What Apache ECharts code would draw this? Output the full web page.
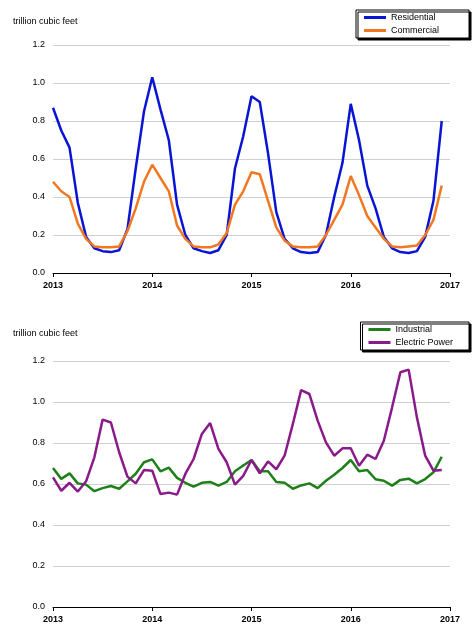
<!DOCTYPE html>
<html>
<head>
<meta charset="utf-8">
<script src="https://cdn.jsdelivr.net/npm/echarts@6/dist/echarts.min.js"></script>
<style>html,body{margin:0;padding:0;background:#fff}#main{width:475px;height:635px}</style>
</head>
<body>
<div id="main"></div>
<script>
// monthly values, Jan 2013 - Dec 2016 (trillion cubic feet)
var residential = [.87,.75,.66,.37,.19,.13,.115,.11,.12,.23,.55,.85,
	1.03,.86,.70,.36,.20,.13,.115,.105,.12,.20,.55,.72,
	.93,.90,.63,.32,.18,.13,.11,.105,.11,.20,.40,.58,
	.89,.70,.46,.34,.19,.13,.11,.105,.115,.19,.38,.80];
var commercial = [.48,.43,.40,.26,.18,.14,.135,.135,.14,.22,.34,.48,
	.57,.50,.43,.25,.18,.14,.135,.135,.15,.21,.36,.43,
	.53,.52,.38,.24,.17,.14,.135,.135,.14,.20,.28,.36,
	.51,.41,.30,.24,.18,.14,.135,.14,.145,.20,.28,.46];
var industrial = [.678,.625,.652,.603,.597,.565,.58,.59,.577,.613,.65,.706,
	.72,.662,.68,.63,.606,.587,.606,.61,.592,.61,.662,.69,
	.717,.662,.662,.61,.606,.577,.593,.603,.58,.616,.645,.678,
	.717,.662,.668,.623,.616,.592,.62,.626,.603,.624,.657,.733];
var electricPower = [.632,.567,.606,.563,.613,.73,.914,.9,.755,.636,.603,.668,
	.665,.551,.558,.548,.649,.722,.844,.897,.771,.706,.597,.64,
	.717,.652,.71,.672,.738,.893,1.058,1.039,.909,.803,.738,.774,
	.774,.689,.743,.722,.811,.974,1.145,1.158,.925,.738,.665,.668];
var startYear = 2013;

function toPairs(arr){
	return arr.map(function(v,i){ return [startYear + i/12, v]; });
}
var font = 'Liberation Sans, Arial, sans-serif';
function xAxis(idx){
	return {type:'value', gridIndex:idx, min:2013, max:2017, interval:1,
		axisLine:{lineStyle:{color:'#000'}}, axisTick:{show:true,length:4,lineStyle:{color:'#000'}},
		splitLine:{show:false}, axisLabel:{color:'#000',fontSize:9,fontFamily:font,fontWeight:'bold',formatter:function(v){return String(v);}}};
}
function yAxis(idx){
	return {type:'value', gridIndex:idx, min:0, max:1.2, interval:0.2,
		axisLine:{show:false}, axisTick:{show:false},
		splitLine:{lineStyle:{color:'#d0d0d0'}},
		axisLabel:{color:'#000',fontSize:9,fontFamily:font,margin:8,formatter:function(v){return v.toFixed(1);}}};
}
function line(name,data,color,idx){
	return {name:name,type:'line',xAxisIndex:idx,yAxisIndex:idx,data:toPairs(data),
		showSymbol:false,lineStyle:{color:color,width:2.5},itemStyle:{color:color}};
}
var chart = echarts.init(document.getElementById('main'));
chart.setOption({
	animation:false,
	title:[
		{text:'trillion cubic feet',left:8,top:12,textStyle:{fontSize:9,fontWeight:'normal',color:'#000',fontFamily:font}},
		{text:'trillion cubic feet',left:8,top:324,textStyle:{fontSize:9,fontWeight:'normal',color:'#000',fontFamily:font}}
	],
	legend:[
		{data:['Residential','Commercial'],orient:'vertical',right:6,top:10,itemWidth:22,itemHeight:3,itemGap:4,
			borderColor:'#000',borderWidth:1,padding:[3,30,3,8],icon:'rect',shadowColor:'#000',shadowOffsetX:2,shadowOffsetY:2,backgroundColor:'#fff',
			textStyle:{fontSize:9,fontFamily:font,color:'#000'}},
		{data:['Industrial','Electric Power'],orient:'vertical',right:6,top:322,itemWidth:22,itemHeight:3,itemGap:4,
			borderColor:'#000',borderWidth:1,padding:[3,16,3,8],icon:'rect',shadowColor:'#000',shadowOffsetX:2,shadowOffsetY:2,backgroundColor:'#fff',
			textStyle:{fontSize:9,fontFamily:font,color:'#000'}}
	],
	grid:[
		{left:53,width:397,top:45,height:228},
		{left:53,width:397,top:361,height:246}
	],
	xAxis:[xAxis(0),xAxis(1)],
	yAxis:[yAxis(0),yAxis(1)],
	series:[
		line('Residential',residential,'#0a14d4',0),
		line('Commercial',commercial,'#f07820',0),
		line('Industrial',industrial,'#1e8018',1),
		line('Electric Power',electricPower,'#8a1a8a',1)
	]
});
</script>
</body>
</html>
